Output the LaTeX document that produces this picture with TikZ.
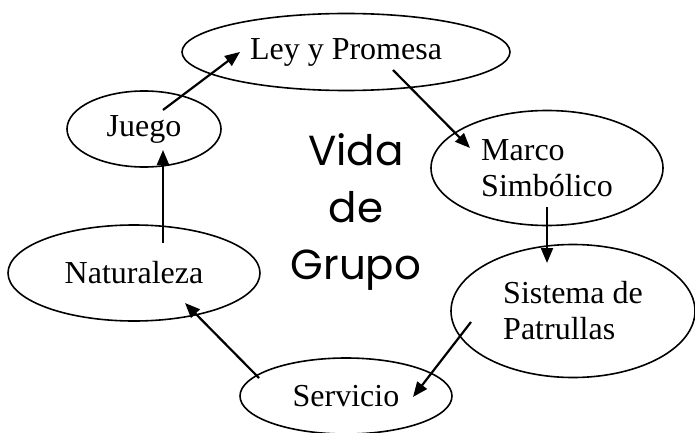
\documentclass[tikz,border=0pt]{standalone}
\usepackage{fontspec}
\setmainfont{Liberation Serif}
\newfontfamily\centrefont{Poppins}
\usetikzlibrary{
  shapes.geometric,
  calc,
  positioning,
  arrows.meta
}

\begin{document}
\begin{tikzpicture}[x=1pt, y=-1pt,
    bubble/.style = {ellipse, draw, line width=1.6pt, inner sep=0pt, align=left,
                     font=\fontsize{32}{36}\selectfont},
    link/.style = {-{Triangle[length=15pt,width=12pt]}, line width=2.2pt}]
    \useasboundingbox (0,0) rectangle (695,433);

    \node[bubble, minimum width=328pt, minimum height=77pt] (ley) at (346,52) {Ley y Promesa};
    \node[bubble, minimum width=154pt, minimum height=76pt] (juego) at (144,129) {Juego};
    \node[bubble, minimum width=232pt, minimum height=115pt] (marco) at (547,168) {Marco\\Simbólico};
    \node[bubble, minimum width=244pt, minimum height=133pt] (sistema) at (573,311) {Sistema de\\Patrullas};
    \node[bubble, minimum width=252pt, minimum height=96pt] (naturaleza) at (134,273) {Naturaleza};
    \node[bubble, minimum width=212pt, minimum height=76pt] (servicio) at (346,396) {Servicio};
    \node[align=center, font=\centrefont\fontsize{42}{57}\selectfont] (vida) at (356,212) {Vida\\de\\Grupo};

    \draw[link] ($(juego)+(19,-19)$) -- ($(ley)+(-106,0)$);
    \draw[link] ($(ley)+(47,18)$) -- ($(marco)+(-77,-20)$);
    \draw[link] ($(marco)+(0,39)$) -- ($(sistema)+(-26,-48)$);
    \draw[link] ($(sistema)+(-102,11)$) -- ($(servicio)+(67,1)$);
    \draw[link] ($(servicio)+(-87,-18)$) -- ($(naturaleza)+(51,30)$);
    \draw[link] ($(naturaleza)+(29,-30)$) -- ($(juego)+(19,21)$);
\end{tikzpicture}
\end{document}
